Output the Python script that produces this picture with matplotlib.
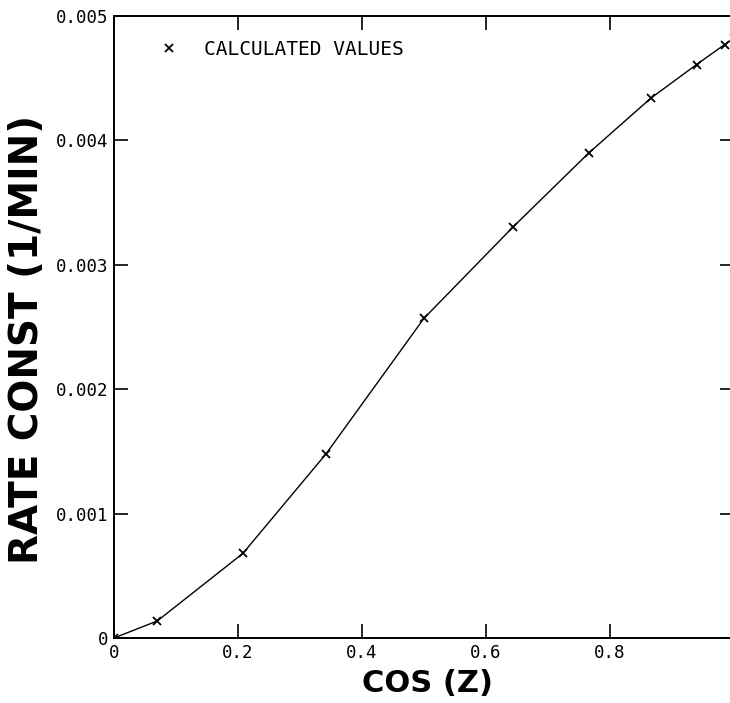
import matplotlib
matplotlib.use("Agg")
import matplotlib.pyplot as plt

# Photolysis rate constant against cosine of the zenith angle
cos_z = [0.0, 0.0698, 0.2079, 0.342, 0.5, 0.6428, 0.766, 0.866, 0.9397, 0.9848, 1.0]
rate_const = [0.0, 0.000137, 0.00068, 0.00148, 0.00257, 0.00330, 0.00390, 0.00434, 0.00461, 0.00477, 0.00482]

x_ticks = [0, 0.2, 0.4, 0.6, 0.8]
x_tick_labels = ["0", "0.2", "0.4", "0.6", "0.8"]
y_ticks = [0, 0.001, 0.002, 0.003, 0.004, 0.005]
y_tick_labels = ["0", "0.001", "0.002", "0.003", "0.004", "0.005"]

W, H = 730, 703
fig = plt.figure(figsize=(W / 100, H / 100), dpi=100)
ax = fig.add_axes([114 / W, 65 / H, 620 / W, 622 / H])

ax.plot(cos_z, rate_const, color="black", linewidth=1.0, zorder=2)
ax.plot(cos_z, rate_const, linestyle="none", marker="x", markersize=6,
        markeredgewidth=1.3, color="black", label="CALCULATED VALUES", zorder=3)

ax.set_xlim(0, 1.0)
ax.set_ylim(0, 0.005)

mono = ["DejaVu Sans Mono"]
ax.set_xticks(x_ticks)
ax.set_xticklabels(x_tick_labels, family=mono, fontsize=12.5)
ax.set_yticks(y_ticks)
ax.set_yticklabels(y_tick_labels, family=mono, fontsize=12.5)
ax.tick_params(axis="both", direction="in", length=10, width=1.2,
               top=True, right=True, pad=4)

for s in ax.spines.values():
    s.set_linewidth(1.4)

ax.set_xlabel("COS (Z)", fontweight="bold", fontsize=22)
ax.xaxis.set_label_coords(0.505, -0.05)
ax.set_ylabel("RATE CONST (1/MIN)", fontweight="bold", fontsize=28)
ax.yaxis.set_label_coords(-0.11, 0.48)

ax.legend(loc="upper left", frameon=False, handlelength=1.0, handletextpad=1.3,
          bbox_to_anchor=(0.045, 0.99), prop={"family": mono, "size": 14})

fig.savefig("out.png", dpi=100)
